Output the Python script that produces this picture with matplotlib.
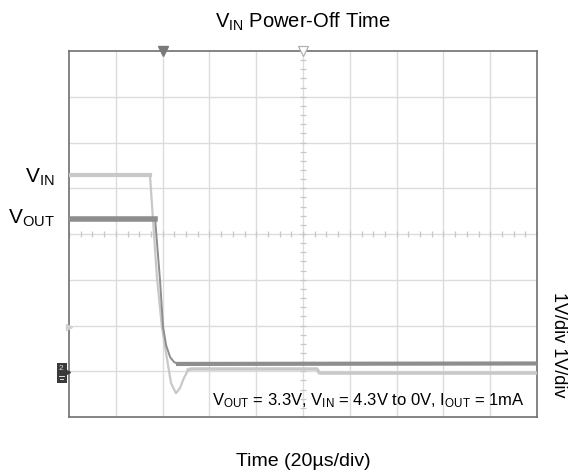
import matplotlib
matplotlib.use('Agg')
import matplotlib.pyplot as plt
from matplotlib.patches import Rectangle
import numpy as np

plt.rcParams['font.family'] = ['Liberation Sans', 'DejaVu Sans']
plt.rcParams['mathtext.fontset'] = 'custom'
plt.rcParams['mathtext.rm'] = 'Liberation Sans'
plt.rcParams['mathtext.it'] = 'Liberation Sans'

# ── scope traces: time in µs (20 µs/div), volts (1 V/div, ground at 1 div) ──
vin_t = [0, 34.6, 35.9, 37.6, 39.7, 41.0, 42.3, 43.6, 45.7, 47.4, 49.1, 50.9, 52.0, 106.0, 107.0, 200.0]
vin_v = [4.29, 4.29, 3.31, 2.04, 0.97, 0.55, 0.14, -0.26, -0.48, -0.37, -0.15, 0.03, 0.05, 0.05, -0.04, -0.04]

vout_t = [0, 36.8, 38.9, 40.2, 41.5, 43.2, 44.9, 46.6, 200.0]
vout_v = [3.33, 3.33, 1.99, 0.97, 0.57, 0.31, 0.20, 0.16, 0.17]

T_DIV, V_DIV = 20.0, 1.0
N_XDIV, N_YDIV = 10, 8
GND = -1.0                 # bottom of screen in volts
TRIG_T = 40.0              # trigger marker (filled)
CENTER_T = 100.0           # horizontal position marker (hollow)

C_VIN = '#c8c8c8'
C_VOUT = '#8e8e8e'
C_GRID = '#dcdcdc'
C_FRAME = '#707070'

fig = plt.figure(figsize=(5.71, 4.70), dpi=100)
ax = fig.add_axes([69/571, 53/470, 468/571, 366/470])

x0, x1 = 0, N_XDIV*T_DIV
y0, y1 = GND, GND + N_YDIV*V_DIV
ax.set_xlim(x0, x1)
ax.set_ylim(y0, y1)
ax.set_xticks([]); ax.set_yticks([])
for s in ax.spines.values():
    s.set_color(C_FRAME); s.set_linewidth(1.2)

# graticule
for i in range(1, N_XDIV):
    ax.axvline(i*T_DIV, color=C_GRID, lw=1.0, zorder=0)
for j in range(1, N_YDIV):
    ax.axhline(GND + j*V_DIV, color=C_GRID, lw=1.0, zorder=0)
xc, yc = x0 + 5*T_DIV, GND + 4*V_DIV
tk_x = np.arange(x0, x1 + 1e-6, T_DIV/4)
tk_y = np.arange(y0, y1 + 1e-6, V_DIV/5)
ax.plot(tk_x, np.full_like(tk_x, yc), ls='none', marker='|', ms=5, mew=0.9, color='#c8c8c8', zorder=1)
ax.plot(np.full_like(tk_y, xc), tk_y, ls='none', marker='_', ms=5, mew=0.9, color='#c8c8c8', zorder=1)

# traces: thin transitions, thicker persistence bands on the flat parts
ax.plot(vin_t, vin_v, color=C_VIN, lw=1.6, zorder=3, solid_joinstyle='round')
ax.plot(vin_t[:2], vin_v[:2], color=C_VIN, lw=3.0, zorder=3)
ax.plot(vin_t[-5:], vin_v[-5:], color=C_VIN, lw=2.4, zorder=3)
ax.plot(vout_t, vout_v, color=C_VOUT, lw=1.4, zorder=4, solid_joinstyle='round')
ax.plot(vout_t[:2], vout_v[:2], color=C_VOUT, lw=4.0, zorder=4)
ax.plot(vout_t[-2:], vout_v[-2:], color=C_VOUT, lw=3.0, zorder=4)

# scope markers
ax.plot([TRIG_T], [y1], marker='v', ms=7, color='#7a7a7a', clip_on=False, zorder=5)
ax.plot([CENTER_T], [y1], marker='v', ms=7, mfc='white', mec='#b0b0b0', mew=0.9,
        clip_on=False, zorder=5)
ax.plot([x0], [GND + 1.97*V_DIV], marker='>', ms=5, color='#d0d0d0', clip_on=False, zorder=5)
ax.add_patch(Rectangle((-0.0256, 0.093), 0.022, 0.055, transform=ax.transAxes,
                       facecolor='#3a3a3a', edgecolor='none', clip_on=False, zorder=6))
ax.plot([-0.0036], [0.122], marker='>', ms=4, color='#3a3a3a', transform=ax.transAxes,
        clip_on=False, zorder=6)
ax.text(-0.018, 0.133, '2', transform=ax.transAxes, color='#e0e0e0', fontsize=6,
        ha='center', va='center', zorder=7)
ax.plot([-0.0215, -0.0105], [0.113, 0.113], color='#e0e0e0', lw=0.7, transform=ax.transAxes,
        clip_on=False, zorder=7)
ax.plot([-0.019, -0.013], [0.104, 0.104], color='#e0e0e0', lw=0.7, transform=ax.transAxes,
        clip_on=False, zorder=7)

# channel labels
lab_tr = ax.get_yaxis_transform()
ax.text(-0.03, vin_v[0] - 0.06, r'V$_{\rm IN}$', transform=lab_tr, ha='right', va='center', fontsize=15)
ax.text(-0.03, vout_v[0] + 0.02, r'V$_{\rm OUT}$', transform=lab_tr, ha='right', va='center', fontsize=15)

ax.text(0.974, 0.046, r'V$_{\rm OUT}$ = 3.3V, V$_{\rm IN}$ = 4.3V to 0V, I$_{\rm OUT}$ = 1mA',
        transform=ax.transAxes, ha='right', va='center', fontsize=12)

fig.text(303/571, 1 - 22/470, r'V$_{\rm IN}$ Power-Off Time', ha='center', va='center', fontsize=14.5)
fig.text(303/571, 1 - 462/470, 'Time (20µs/div)', ha='center', va='center', fontsize=14)
fig.text(559/571, 1 - 345/470, '1V/div 1V/div', rotation=270, ha='center', va='center', fontsize=13)

fig.savefig('out.png', dpi=100)
